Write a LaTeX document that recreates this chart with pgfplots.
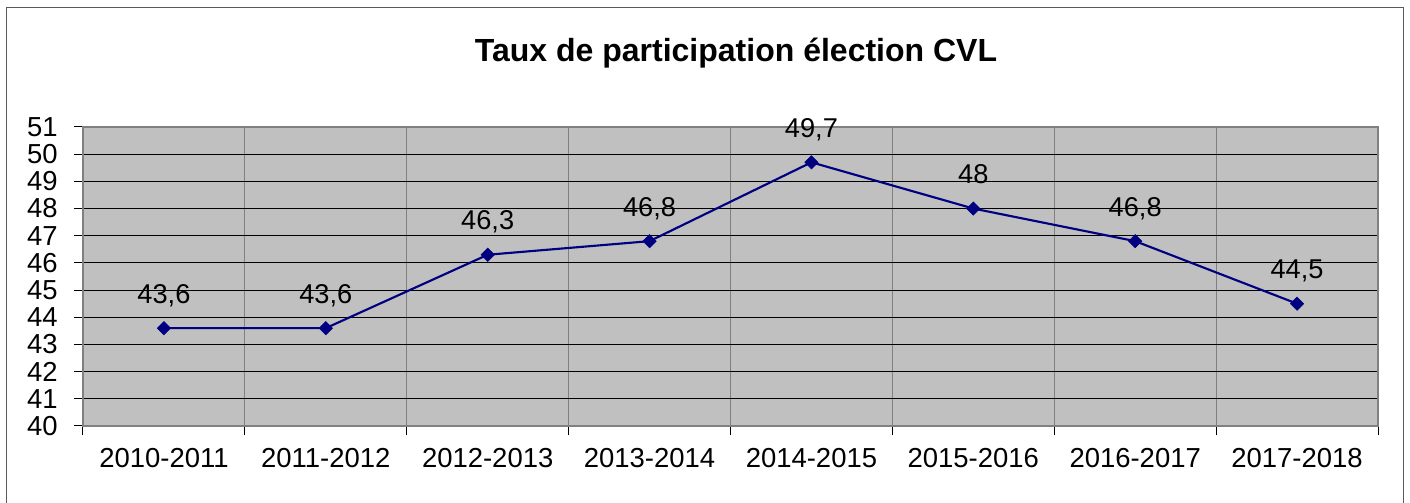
\documentclass[border=0pt]{standalone}
\usepackage{fontspec}
\setmainfont{Liberation Sans}
\usepackage{pgfplots}
\pgfplotsset{compat=1.18}
\definecolor{plotbg}{RGB}{192,192,192}
\definecolor{navyline}{RGB}{0,0,128}
\definecolor{gridgray}{RGB}{128,128,128}
\definecolor{framegray}{RGB}{90,90,90}

\pgfplotstableread{
x y label
0 43.6 43,6
1 43.6 43,6
2 46.3 46,3
3 46.8 46,8
4 49.7 49,7
5 48.0 48
6 46.8 46,8
7 44.5 44,5
}\datatable

\begin{document}
\begin{tikzpicture}
\useasboundingbox (-62.25pt,-57.75pt) rectangle (995.25pt,319.5pt);
\draw[framegray, line width=0.75pt] (-57pt,-60pt) -- (-57pt,313.5pt) -- (990pt,313.5pt) -- (990pt,-60pt);
\node[font=\bfseries\fontsize{24}{28}\selectfont, anchor=base] at (489.75pt,273pt) {Taux de participation élection CVL};
\begin{axis}[
  at={(0,0)}, anchor=south west,
  scale only axis, width=971.25pt, height=224.25pt,
  xmin=-0.5, xmax=7.5, ymin=40, ymax=51,
  xtick={0,...,7},
  xticklabels={2010-2011,2011-2012,2012-2013,2013-2014,2014-2015,2015-2016,2016-2017,2017-2018},
  major x tick style={draw=none},
  minor xtick={-0.5,0.5,...,7.5},
  xminorgrids, minor x grid style={gridgray, line width=0.75pt},
  ytick={40,...,51}, ymajorgrids, major y grid style={black, line width=0.75pt},
  tick align=outside, tick style={black, line width=0.75pt},
  major tick length=6.75pt, minor tick length=6.75pt,
  xtick pos=bottom, ytick pos=left,
  axis line style={gridgray, line width=1.5pt},
  axis background/.style={fill=plotbg},
  ticklabel style={font=\fontsize{20.6}{24}\selectfont},
  /pgf/number format/assume math mode=true,
  xticklabel style={anchor=base, yshift=-24pt},
  yticklabel style={anchor=east, inner sep=0pt, xshift=-12pt},
  clip=false,
]
\addplot[navyline, line width=1.6pt, mark=square*,
  mark options={solid, rotate=45, line width=0.5pt, fill=navyline},
  mark size=3.5pt,
  nodes near coords, point meta=explicit symbolic,
  every node near coord/.append style={font=\fontsize{20.4}{24}\selectfont, text=black, anchor=base, yshift=18.75pt}]
  table[x=x, y=y, meta=label] {\datatable};
\end{axis}
\end{tikzpicture}
\end{document}
